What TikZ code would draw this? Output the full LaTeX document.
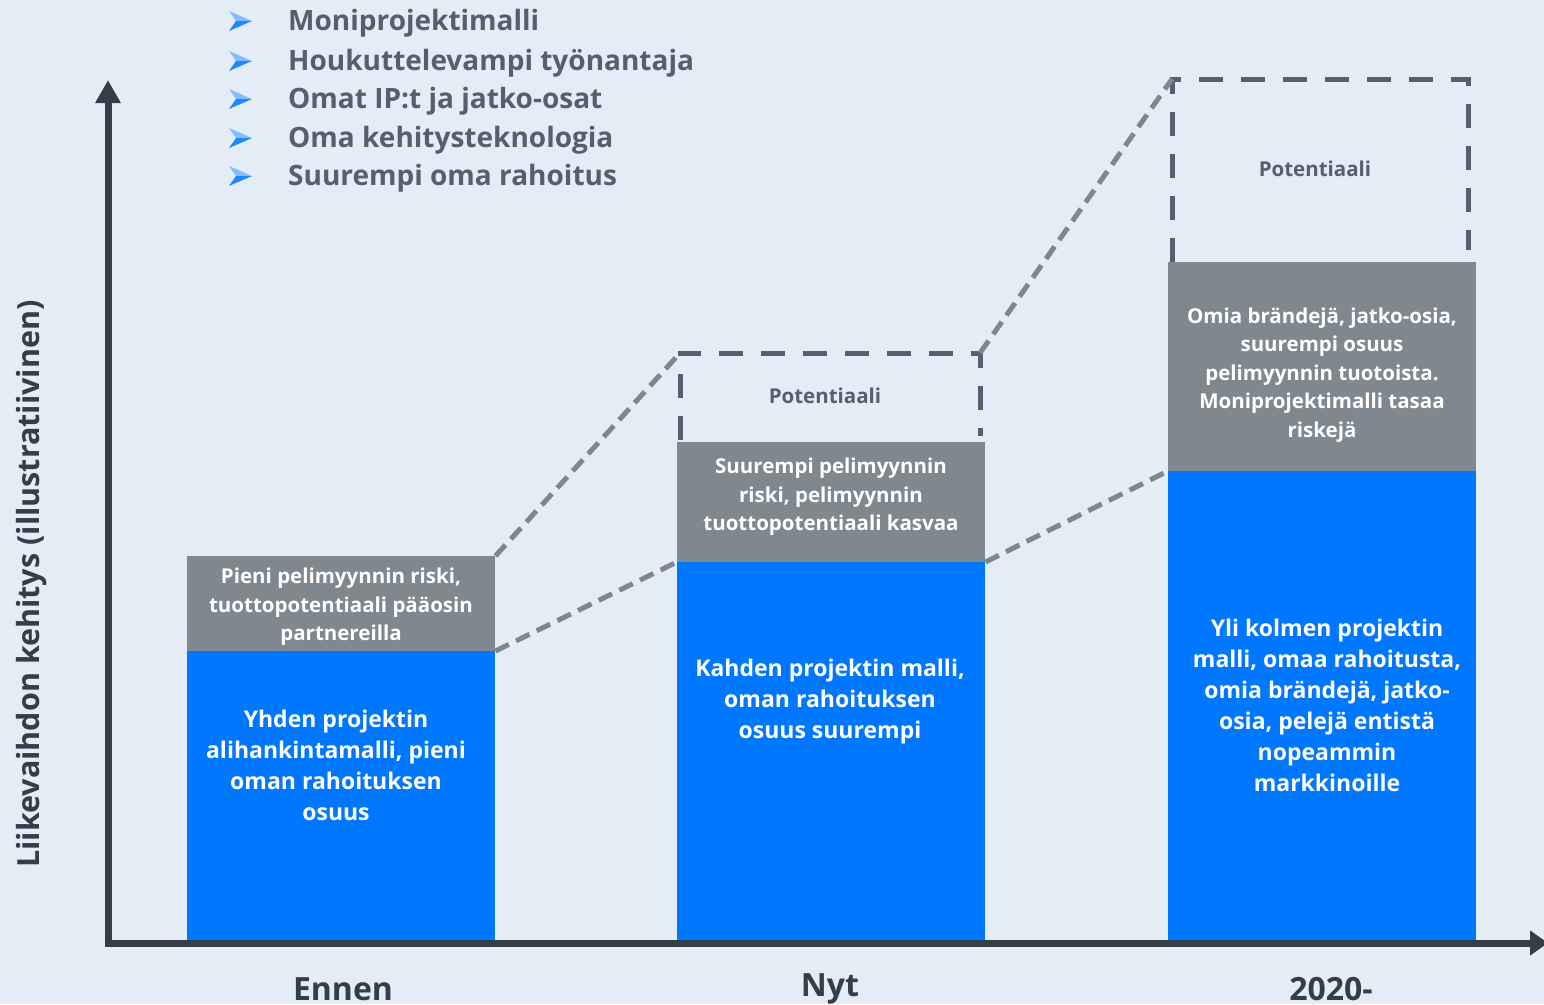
\documentclass[tikz,border=0pt]{standalone}
\usepackage{fontspec}
\setmainfont{Open Sans}
\usetikzlibrary{arrows.meta}
\definecolor{bg}{HTML}{E4ECF6}
\definecolor{axisc}{HTML}{333E48}
\definecolor{barblue}{HTML}{0077FF}
\definecolor{bargrey}{HTML}{7F888E}
\definecolor{boxdash}{HTML}{555F6D}
\definecolor{linkgrey}{HTML}{7F878E}
\definecolor{bulletblue}{HTML}{1E88FF}
\tikzset{
  bar/.style={rectangle, inner sep=0pt, anchor=north west},
  bluebar/.style={bar, fill=barblue},
  greybar/.style={bar, fill=bargrey},
  bartext/.style={text=white, align=center, font=\bfseries\fontsize{23}{31}\selectfont, inner sep=0pt},
  greytext/.style={text=white, align=center, font=\bfseries\fontsize{20.5}{28.5}\selectfont, inner sep=0pt},
  potbox/.style={draw=boxdash, line width=5pt, dash pattern=on 24pt off 18pt},
  link/.style={draw=linkgrey, line width=5pt, dash pattern=on 15pt off 8pt},
  bullettext/.style={text=boxdash, anchor=west, font=\bfseries\fontsize{28}{34}\selectfont, inner sep=0pt},
  axislabel/.style={text=axisc, font=\bfseries\fontsize{30.5}{36}\selectfont, inner sep=0pt},
  catlabel/.style={text=axisc, font=\bfseries\fontsize{32}{36}\selectfont, inner sep=0pt},
  pottext/.style={text=boxdash, font=\bfseries\fontsize{20.5}{24}\selectfont, inner sep=0pt},
  bulletmark/.pic={
    \fill[bulletblue!55] (-11,-10) -- (12,0) -- (-4,0) -- cycle;
    \fill[bulletblue] (-11,10) -- (12,0) -- (-4,0) -- cycle;
  }
}
\begin{document}
\begin{tikzpicture}[x=1pt, y=-1pt]
\fill[bg] (0,0) rectangle (1544,1004);
\useasboundingbox (0,0) rectangle (1544,1004);

% bullet list
\foreach \yy/\txt [count=\i] in {21/Moniprojektimalli, 61/Houkuttelevampi työnantaja, 99/Omat IP:t ja jatko-osat, 138/Oma kehitysteknologia, 176/Suurempi oma rahoitus}{
  \pic at (240,\yy) {bulletmark};
  \node[bullettext] (item\i) at (288,\yy+2) {\txt};
}

% bars: grey top part and blue lower part
\node[greybar, minimum width=308pt, minimum height=95pt]  (g1) at (187,556) {};
\node[bluebar, minimum width=308pt, minimum height=289pt] (b1) at (187,651) {};
\node[greybar, minimum width=308pt, minimum height=120pt] (g2) at (677,442) {};
\node[bluebar, minimum width=308pt, minimum height=378pt] (b2) at (677,562) {};
\node[greybar, minimum width=308pt, minimum height=209pt] (g3) at (1168,262) {};
\node[bluebar, minimum width=308pt, minimum height=469pt] (b3) at (1168,471) {};

% potential boxes (open at the bottom)
\coordinate (p2bl) at (680,440);
\coordinate (p2tl) at (680,353);
\coordinate (p2tr) at (980,353);
\coordinate (p2br) at (980,436);
\coordinate (p3bl) at (1172,262);
\coordinate (p3tl) at (1172,79);
\coordinate (p3tr) at (1468,79);
\coordinate (p3br) at (1468,250);
\draw[potbox] (p2bl) -- (p2tl) -- (p2tr) -- (p2br);
\draw[potbox] (p3bl) -- (p3tl) -- (p3tr) -- (p3br);
\node[pottext] (pot2) at (825,396) {Potentiaali};
\node[pottext] (pot3) at (1315,169) {Potentiaali};

% growth links between bars
\draw[link] (g1.north east) -- (p2tl);
\draw[link] (b1.north east) -- (b2.north west);
\draw[link] (p2tr) -- (p3tl);
\draw[link] (b2.north east) -- (b3.north west);

% bar texts
\node[greytext] (t1g) at (341,607) {Pieni pelimyynnin riski,\\tuottopotentiaali pääosin\\partnereilla};
\node[bartext] (t1b) at (336,765) {Yhden projektin\\alihankintamalli, pieni\\oman rahoituksen\\osuus};
\node[greytext] (t2g) at (831,497) {Suurempi pelimyynnin\\riski, pelimyynnin\\tuottopotentiaali kasvaa};
\node[bartext] (t2b) at (830,702) {Kahden projektin malli,\\oman rahoituksen\\osuus suurempi};
\node[greytext] (t3g) at (1322,375) {Omia brändejä, jatko-osia,\\suurempi osuus\\pelimyynnin tuotoista.\\Moniprojektimalli tasaa\\riskejä};
\node[bartext] (t3b) at (1327,705) {Yli kolmen projektin\\malli, omaa rahoitusta,\\omia brändejä, jatko-\\osia, pelejä entistä\\nopeammin\\markkinoille};

% axes
\coordinate (origin) at (108,943);
\coordinate (ytip) at (108,80);
\coordinate (xtip) at (1548,943);
\draw[axisc, line width=7pt, -{Triangle[width=24pt,length=23pt]}] (108,946.5) -- (ytip);
\draw[axisc, line width=7pt, -{Triangle[width=24pt,length=18pt]}] (104.5,943) -- (xtip);

% axis labels
\node[axislabel, rotate=90] (ylab) at (32,584) {Liikevaihdon kehitys (illustratiivinen)};
\node[catlabel] (x1) at (343,989) {Ennen};
\node[catlabel] (x2) at (830,989) {Nyt};
\node[catlabel] (x3) at (1331,989) {2020-};
\end{tikzpicture}
\end{document}
